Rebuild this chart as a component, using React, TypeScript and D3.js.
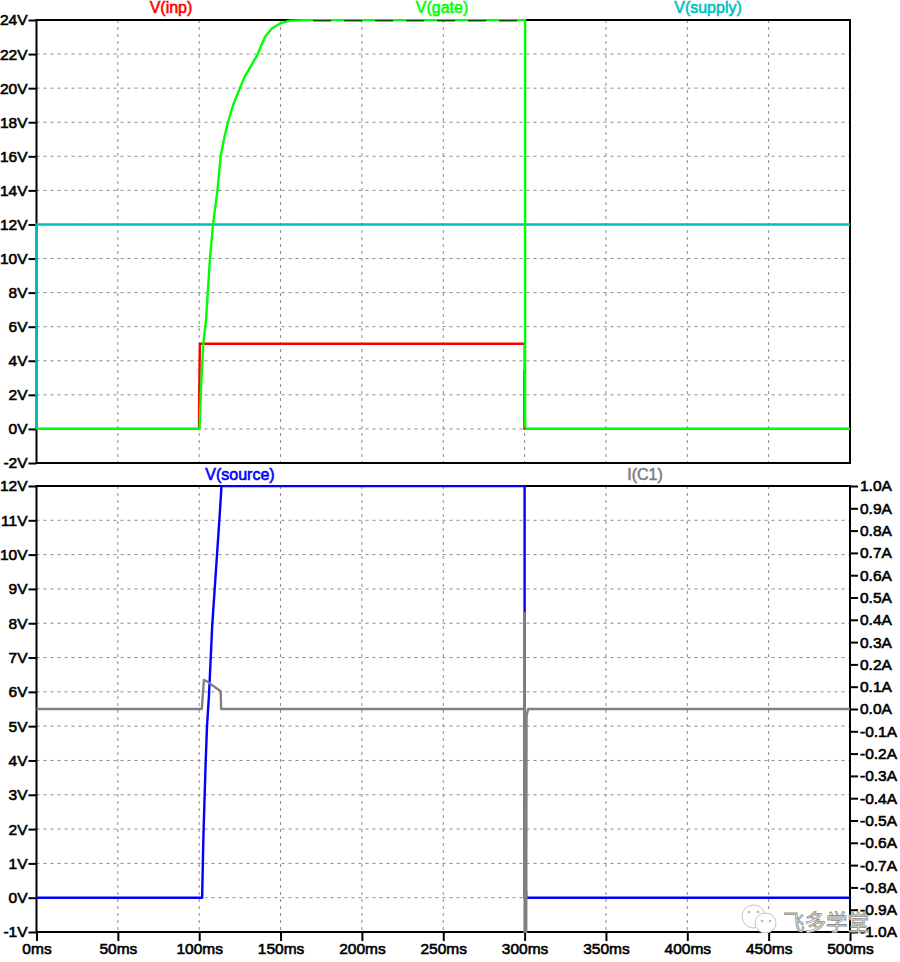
import React, { useEffect, useRef } from "react";
import * as d3 from "d3";

type Pt = [number, number];

// time axis
const timeTicks = [0, 50, 100, 150, 200, 250, 300, 350, 400, 450, 500];

// top pane ticks (volts)
const topVoltTicks = [-2, 0, 2, 4, 6, 8, 10, 12, 14, 16, 18, 20, 22, 24];
// bottom pane ticks
const bottomVoltTicks = [-1, 0, 1, 2, 3, 4, 5, 6, 7, 8, 9, 10, 11, 12];
const ampTicks = [
  -1, -0.9, -0.8, -0.7, -0.6, -0.5, -0.4, -0.3, -0.2, -0.1, 0, 0.1, 0.2, 0.3, 0.4, 0.5, 0.6, 0.7, 0.8,
  0.9, 1,
];

// traces, [ms, value]
const vInp: Pt[] = [
  [0, 0],
  [99.9, 0],
  [99.9, 1],
  [100.4, 5],
  [300.1, 5],
  [300.1, 3.4],
  [299.9, 3.4],
  [299.9, 0],
  [500, 0],
];
const vGate: Pt[] = [
  [0, 0],
  [100.2, 0],
  [100.9, 1.9],
  [102.5, 5],
  [104.2, 6.4],
  [106.6, 10],
  [108.5, 12],
  [111.2, 14],
  [112.2, 15],
  [113.2, 16],
  [115.2, 17],
  [117.7, 18],
  [120.8, 19],
  [125, 20],
  [128.1, 20.7],
  [130, 21],
  [136, 22],
  [140.4, 23],
  [144.6, 23.5],
  [149.7, 23.8],
  [155.8, 23.96],
  [165, 24],
  [300.3, 24],
  [300.3, 0.2],
  [301, 0],
  [500, 0],
];
const vSupply: Pt[] = [
  [0, 0],
  [0, 12],
  [500, 12],
];
const vSource: Pt[] = [
  [0, 0],
  [101.8, 0],
  [102.6, 1.8],
  [103.9, 3.85],
  [104.8, 5],
  [106, 5.89],
  [108, 7.93],
  [112.8, 11.3],
  [113.7, 12],
  [300, 12],
  [300, 0],
  [300.9, 0.2],
  [300.9, 0],
  [500, 0],
];
const iC1: Pt[] = [
  [0, 0],
  [101.6, 0],
  [102.9, 0.13],
  [104.5, 0.125],
  [113.2, 0.08],
  [113.5, 0],
  [300, 0],
  [300, 0.43],
  [300, -1],
  [301, -1],
  [301.2, -0.03],
  [302.2, 0],
  [500, 0],
];

const App: React.FC = () => {
  const svgRef = useRef<SVGSVGElement>(null);

  useEffect(() => {
    if (!svgRef.current) return;
    const svg = d3.select(svgRef.current);
    svg.selectAll("*").remove();

    const left = 36.5;
    const right = 850;
    const x = d3.scaleLinear().domain([0, 500]).range([left, right]);
    const yTop = d3.scaleLinear().domain([-2, 24]).range([463, 20]);
    const yBot = d3.scaleLinear().domain([-1, 12]).range([932, 486]);
    const yAmp = d3.scaleLinear().domain([-1, 1]).range([932, 486]);

    const font = "'Liberation Sans', Arial, sans-serif";

    // clip so the spikes stay inside the frame
    const defs = svg.append("defs");
    defs
      .append("clipPath")
      .attr("id", "clip-top")
      .append("rect")
      .attr("x", left - 1.5)
      .attr("y", 19)
      .attr("width", right - left + 2)
      .attr("height", 445);
    defs
      .append("clipPath")
      .attr("id", "clip-bot")
      .append("rect")
      .attr("x", left - 1.5)
      .attr("y", 485)
      .attr("width", right - left + 2)
      .attr("height", 448);

    const grid = svg.append("g").attr("stroke", "#8a8a8a").attr("stroke-width", 1).attr("stroke-dasharray", "3 4");
    const drawGrid = (y0: number, y1: number, ys: number[]) => {
      timeTicks.slice(1, -1).forEach((t) => {
        grid.append("line").attr("x1", x(t)).attr("x2", x(t)).attr("y1", y0).attr("y2", y1);
      });
      ys.forEach((py) => {
        grid.append("line").attr("x1", left).attr("x2", right).attr("y1", py).attr("y2", py);
      });
    };
    drawGrid(20, 463, topVoltTicks.slice(1, -1).map((v) => yTop(v)));
    drawGrid(486, 932, bottomVoltTicks.slice(1, -1).map((v) => yBot(v)));

    // frames
    [
      [20, 463],
      [486, 932],
    ].forEach(([a, b]) => {
      svg
        .append("rect")
        .attr("x", left)
        .attr("y", a)
        .attr("width", right - left)
        .attr("height", b - a)
        .attr("fill", "none")
        .attr("stroke", "#000")
        .attr("stroke-width", 2);
    });

    const styleAxis = (g: d3.Selection<SVGGElement, unknown, null, undefined>) => {
      g.select(".domain").remove();
      g.selectAll("line").attr("stroke", "#000").attr("stroke-width", 2);
      g.selectAll("text")
        .attr("fill", "#000")
        .attr("stroke", "#000")
        .attr("stroke-width", 0.6)
        .style("font-family", font)
        .style("font-size", "15.5px");
    };

    svg
      .append("g")
      .attr("transform", `translate(${left},0)`)
      .call(
        d3
          .axisLeft(yTop)
          .tickValues(topVoltTicks)
          .tickSize(8)
          .tickPadding(1)
          .tickFormat((d) => `${d}V`)
      )
      .call(styleAxis);
    svg
      .append("g")
      .attr("transform", `translate(${left},0)`)
      .call(
        d3
          .axisLeft(yBot)
          .tickValues(bottomVoltTicks)
          .tickSize(8)
          .tickPadding(1)
          .tickFormat((d) => `${d}V`)
      )
      .call(styleAxis);
    svg
      .append("g")
      .attr("transform", `translate(${right},0)`)
      .call(
        d3
          .axisRight(yAmp)
          .tickValues(ampTicks)
          .tickSize(8)
          .tickPadding(2)
          .tickFormat((d) => `${(d as number).toFixed(1)}A`)
      )
      .call(styleAxis);
    svg
      .append("g")
      .attr("transform", "translate(0,932)")
      .call(
        d3
          .axisBottom(x)
          .tickValues(timeTicks)
          .tickSize(9)
          .tickPadding(2)
          .tickFormat((d) => `${d}ms`)
      )
      .call(styleAxis);

    // traces
    const line = (yScale: d3.ScaleLinear<number, number>) =>
      d3
        .line<Pt>()
        .x((d) => x(d[0]))
        .y((d) => yScale(d[1]));
    const trace = (data: Pt[], yScale: d3.ScaleLinear<number, number>, color: string, clip: string) => {
      svg
        .append("path")
        .attr("d", line(yScale)(data))
        .attr("fill", "none")
        .attr("stroke", color)
        .attr("stroke-width", 2.4)
        .attr("stroke-linejoin", "round")
        .attr("clip-path", `url(#${clip})`);
    };
    trace(vInp, yTop, "#ff0000", "clip-top");
    trace(vSupply, yTop, "#00bfbf", "clip-top");
    trace(vGate, yTop, "#00ff00", "clip-top");
    trace(vSource, yBot, "#0000ff", "clip-bot");
    trace(iC1, yAmp, "#808080", "clip-bot");

    // the frame shows through the flat top of V(gate) in dashes
    svg
      .append("line")
      .attr("x1", x(170))
      .attr("x2", x(298))
      .attr("y1", yTop(24) + 0.8)
      .attr("y2", yTop(24) + 0.8)
      .attr("stroke", "#000")
      .attr("stroke-width", 1)
      .attr("stroke-dasharray", "18 13");

    // trace names
    const names: [string, string, number, number][] = [
      ["V(inp)", "#ff0000", 171, 13],
      ["V(gate)", "#00ff00", 442, 13],
      ["V(supply)", "#00bfbf", 708, 13],
      ["V(source)", "#0000ff", 240, 480],
      ["I(C1)", "#808080", 645, 480],
    ];
    names.forEach(([label, color, px, py]) => {
      svg
        .append("text")
        .attr("x", px)
        .attr("y", py)
        .attr("text-anchor", "middle")
        .attr("fill", color)
        .attr("stroke", color)
        .attr("stroke-width", 0.6)
        .style("font-family", font)
        .style("font-size", "16px")
        .text(label);
    });

    // watermark
    const mark = svg.append("g").attr("fill", "#fff").attr("stroke", "#c4c4c4").attr("stroke-width", 1);
    mark.append("ellipse").attr("cx", 753.5).attr("cy", 916.5).attr("rx", 11.5).attr("ry", 11.5);
    mark.append("ellipse").attr("cx", 765.5).attr("cy", 923).attr("rx", 10.5).attr("ry", 10);
    mark.append("circle").attr("cx", 749).attr("cy", 912).attr("r", 1).attr("fill", "#999");
    mark.append("circle").attr("cx", 758).attr("cy", 912).attr("r", 1).attr("fill", "#999");
    mark.append("circle").attr("cx", 762).attr("cy", 921).attr("r", 1).attr("fill", "#999");
    mark.append("circle").attr("cx", 770).attr("cy", 921).attr("r", 1).attr("fill", "#999");
    svg
      .append("text")
      .attr("x", 783)
      .attr("y", 930)
      .attr("fill", "#fff")
      .attr("stroke", "#8a8a8a")
      .attr("stroke-width", 0.8)
      .style("font-family", "'Noto Sans CJK SC', sans-serif")
      .style("font-size", "21.5px")
      .text("飞多学堂");
  }, []);

  return (
    <div style={{ position: "absolute", left: 0, top: 0 }}>
      <svg ref={svgRef} width={900} height={962} style={{ display: "block", background: "#fff" }}></svg>
    </div>
  );
};

export default App;
